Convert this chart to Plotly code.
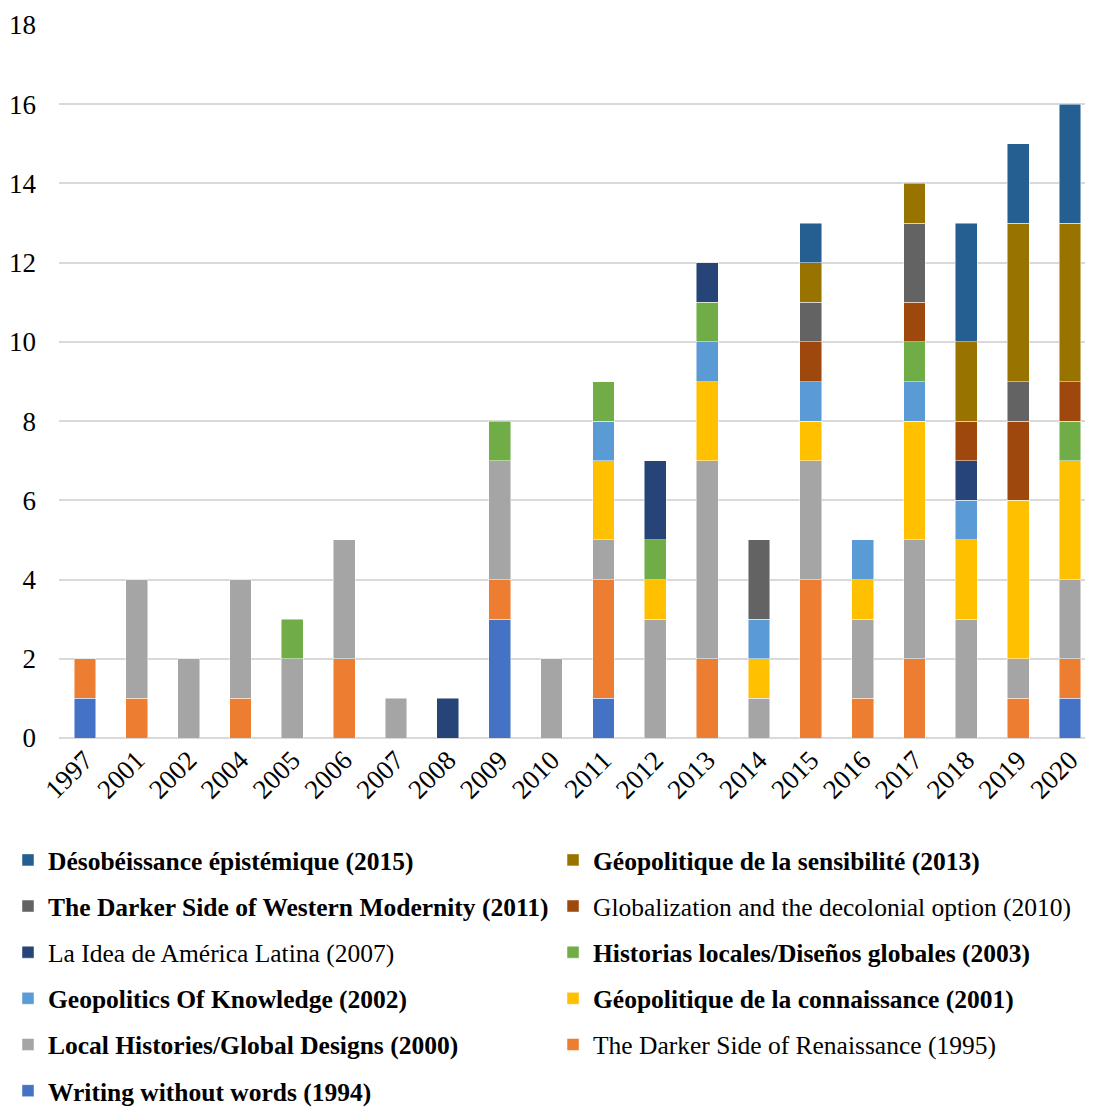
import plotly.graph_objects as go

years = ["1997", "2001", "2002", "2004", "2005", "2006", "2007", "2008", "2009", "2010",
         "2011", "2012", "2013", "2014", "2015", "2016", "2017", "2018", "2019", "2020"]

writing = [1, 0, 0, 0, 0, 0, 0, 0, 3, 0, 1, 0, 0, 0, 0, 0, 0, 0, 0, 1]
darker_ren = [1, 1, 0, 1, 0, 2, 0, 0, 1, 0, 3, 0, 2, 0, 4, 1, 2, 0, 1, 1]
local_hist = [0, 3, 2, 3, 2, 3, 1, 0, 3, 2, 1, 3, 5, 1, 3, 2, 3, 3, 1, 2]
geo_conn = [0, 0, 0, 0, 0, 0, 0, 0, 0, 0, 2, 1, 2, 1, 1, 1, 3, 2, 4, 3]
geopol_know = [0, 0, 0, 0, 0, 0, 0, 0, 0, 0, 1, 0, 1, 1, 1, 1, 1, 1, 0, 0]
historias = [0, 0, 0, 0, 1, 0, 0, 0, 1, 0, 1, 1, 1, 0, 0, 0, 1, 0, 0, 1]
idea = [0, 0, 0, 0, 0, 0, 0, 1, 0, 0, 0, 2, 1, 0, 0, 0, 0, 1, 0, 0]
globalization = [0, 0, 0, 0, 0, 0, 0, 0, 0, 0, 0, 0, 0, 0, 1, 0, 1, 1, 2, 1]
darker_west = [0, 0, 0, 0, 0, 0, 0, 0, 0, 0, 0, 0, 0, 2, 1, 0, 2, 0, 1, 0]
geo_sens = [0, 0, 0, 0, 0, 0, 0, 0, 0, 0, 0, 0, 0, 0, 1, 0, 1, 2, 4, 4]
desob = [0, 0, 0, 0, 0, 0, 0, 0, 0, 0, 0, 0, 0, 0, 1, 0, 0, 3, 2, 3]

series = [
    ("<b>Writing without words (1994)</b>", writing, "#4472C4", "legend"),
    ("The Darker Side of Renaissance (1995)", darker_ren, "#ED7D31", "legend2"),
    ("<b>Local Histories/Global Designs (2000)</b>", local_hist, "#A5A5A5", "legend"),
    ("<b>Géopolitique de la connaissance (2001)</b>", geo_conn, "#FFC000", "legend2"),
    ("<b>Geopolitics Of Knowledge (2002)</b>", geopol_know, "#5B9BD5", "legend"),
    ("<b>Historias locales/Diseños globales (2003)</b>", historias, "#70AD47", "legend2"),
    ("La Idea de América Latina (2007)", idea, "#264478", "legend"),
    ("Globalization and the decolonial option (2010)", globalization, "#9E480E", "legend2"),
    ("<b>The Darker Side of Western Modernity (2011)</b>", darker_west, "#636363", "legend"),
    ("<b>Géopolitique de la sensibilité (2013)</b>", geo_sens, "#997300", "legend2"),
    ("<b>Désobéissance épistémique (2015)</b>", desob, "#255E91", "legend"),
]

fig = go.Figure()
for i, (name, vals, color, leg) in enumerate(series):
    fig.add_trace(go.Bar(
        x=years, y=[v if v else None for v in vals], name=name,
        marker=dict(color=color, line=dict(color="rgba(255,255,255,0.6)", width=0.8)),
        legend=leg, legendgroup="g%d" % i, legendrank=100 - i,
    ))

font_family = "Liberation Serif, Times New Roman, serif"
legend_common = dict(
    orientation="v", traceorder="grouped", tracegroupgap=10,
    font=dict(family=font_family, size=25.5, color="black"),
    bgcolor="rgba(0,0,0,0)", xanchor="left", yanchor="top",
    xref="paper", yref="container",
    itemclick=False, itemdoubleclick=False,
)

fig.update_layout(
    width=1093, height=1111,
    margin=dict(l=51, r=5, t=17, b=381),
    barmode="stack", bargap=0.58,
    plot_bgcolor="white", paper_bgcolor="white",
    font=dict(family=font_family, size=27, color="black"),
    showlegend=True,
    legend=dict(x=-0.0743, y=0.254, **legend_common),
    legend2=dict(x=0.4764, y=0.254, **legend_common),
    xaxis=dict(type="category", tickangle=-45, showgrid=False, showline=False,
               ticks="", tickfont=dict(size=27), automargin=False),
    yaxis=dict(range=[0, 18], dtick=2, showgrid=True, gridcolor="#D9D9D9", gridwidth=1.5,
               zeroline=True, zerolinecolor="#D9D9D9", zerolinewidth=1.5,
               showline=False, ticks="", ticklabelstandoff=22, tickfont=dict(size=27),
               automargin=False),
)

fig.write_html("out.html")
